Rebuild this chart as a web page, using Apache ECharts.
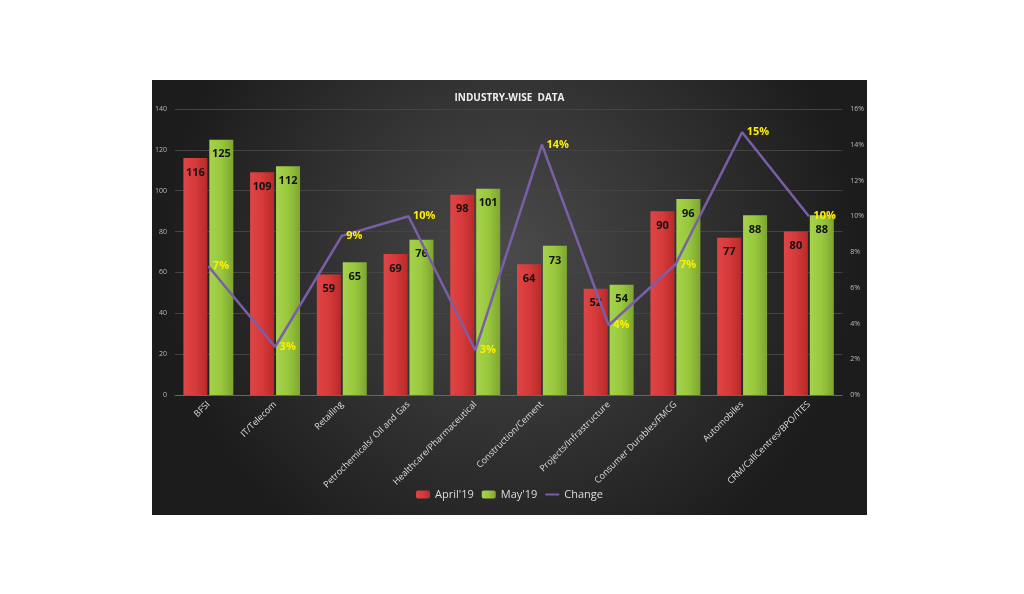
<!DOCTYPE html>
<html><head><meta charset="utf-8">
<script src="https://cdn.jsdelivr.net/npm/echarts@6/dist/echarts.min.js"></script>
<style>body{margin:0;background:#fff;width:1024px;height:594px;position:relative}
#c{position:absolute;left:152px;top:80px;width:715px;height:435px}</style></head>
<body><div id="c"></div>
<script>
const categories=['BFSI','IT/Telecom','Retailing','Petrochemicals/ Oil and Gas','Healthcare/Pharmaceutical','Construction/Cement','Projects/Infrastructure','Consumer Durables/FMCG','Automobiles','CRM/CallCentres/BPO/ITES'];
const april=[116,109,59,69,98,64,52,90,77,80];
const may=[125,112,65,76,101,73,54,96,88,88];
const change=[7.2,2.7,8.9,10.0,2.5,14.0,3.9,7.3,14.7,10.0];
const chart=echarts.init(document.getElementById('c'));
const ax={color:'#bbb',fontSize:7,fontFamily:'Open Sans'};
const barLabel={show:true,position:'insideTop',color:'#111',fontWeight:'bold',fontSize:11,offset:[0,4],fontFamily:'Open Sans'};
chart.setOption({
backgroundColor:{type:'radial',x:0.5,y:0.4,r:0.8,colorStops:[{offset:0,color:'#4a4a4a'},{offset:1,color:'#1c1c1c'}]},
title:{text:'INDUSTRY-WISE  DATA',left:'center',top:8,textStyle:{color:'#eee',fontSize:10,fontWeight:'bold',fontFamily:'Open Sans'}},
legend:{bottom:10,itemWidth:14,itemHeight:8,textStyle:{color:'#ddd',fontSize:11,fontFamily:'Open Sans'},
 data:["April'19","May'19",{name:'Change',icon:'path://M0,4L14,4L14,6L0,6Z'}]},
grid:{left:20,right:19,top:29,bottom:120},
xAxis:{type:'category',data:categories,axisTick:{show:false},axisLine:{lineStyle:{color:'#666'}},
 axisLabel:{rotate:45,color:'#ddd',fontSize:9,fontFamily:'Open Sans',interval:0,margin:8}},
yAxis:[{type:'value',min:0,max:140,interval:20,axisLabel:ax,splitLine:{lineStyle:{color:'#444'}}},
 {type:'value',min:0,max:16,interval:2,axisLabel:Object.assign({formatter:'{value}%'},ax),splitLine:{show:false}}],
series:[
{name:"April'19",type:'bar',data:april,barWidth:24,barGap:'8%',itemStyle:{color:{type:'linear',x:0,y:0,x2:1,y2:0,colorStops:[{offset:0,color:'#e04545'},{offset:0.5,color:'#d63a3a'},{offset:1,color:'#b82a2a'}]}},label:barLabel},
{name:"May'19",type:'bar',data:may,barWidth:24,itemStyle:{color:{type:'linear',x:0,y:0,x2:1,y2:0,colorStops:[{offset:0,color:'#a6d24c'},{offset:0.5,color:'#98c83e'},{offset:1,color:'#7ea530'}]}},label:barLabel},
{name:'Change',type:'line',yAxisIndex:1,data:change,symbol:'circle',symbolSize:1,showSymbol:true,z:5,lineStyle:{color:'#7a5fa8',width:2.5},itemStyle:{color:'#7a5fa8'},
 label:{show:true,position:'right',distance:4,color:'#ffee00',fontWeight:'bold',fontSize:11,fontFamily:'Open Sans',formatter:p=>Math.round(p.value)+'%'},labelLayout:{hideOverlap:false}}
]});
</script></body></html>
